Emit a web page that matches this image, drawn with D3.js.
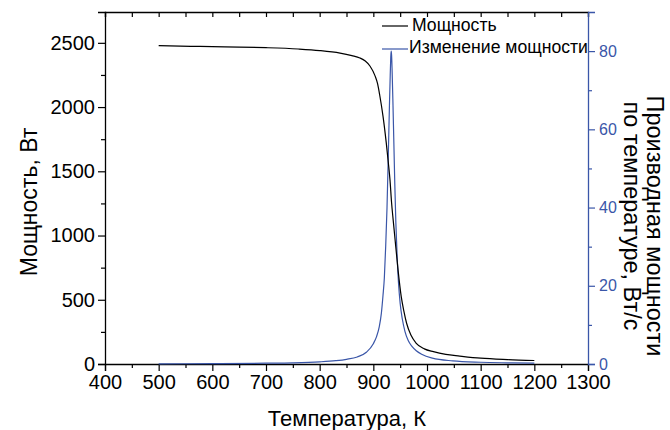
<!DOCTYPE html>
<html>
<head>
<meta charset="utf-8">
<script src="https://cdn.jsdelivr.net/npm/d3@7"></script>
<style>
  html, body { margin: 0; padding: 0; background: #fff; }
  svg { display: block; font-family: "Liberation Sans", Arial, sans-serif; }
</style>
</head>
<body>
<svg id="chart" width="670" height="430"></svg>
<script>
// ---- data ----
const tempTicks = [400, 500, 600, 700, 800, 900, 1000, 1100, 1200, 1300];
const powerTicks = [0, 500, 1000, 1500, 2000, 2500];
const derivTicks = [0, 20, 40, 60, 80];

const seriesNames = ["Мощность", "Изменение мощности"];

// Power, W vs temperature, K
const powerT = [500, 560, 600, 650, 700, 760, 800, 838, 860, 875, 885, 894, 903, 908, 912, 918, 924, 928, 931, 934, 937, 940, 946, 952, 957, 962, 970, 980, 995, 1012, 1035, 1061, 1100, 1150, 1200];
const powerW = [2478, 2473, 2470, 2467, 2462, 2452, 2440, 2420, 2400, 2382, 2358, 2318, 2245, 2180, 2090, 1930, 1725, 1565, 1435, 1255, 1120, 991, 735, 524, 410, 317, 225, 161, 118, 96, 75, 62, 45, 34, 27];

// Derivative of power by temperature, W/K
const derivT = [500, 600, 700, 750, 800, 830, 850, 870, 887, 900, 906, 911, 915, 918, 920.5, 923, 925.5, 928, 930, 931.5, 932.5, 933.2, 934, 935, 936.5, 938, 940, 942, 944.5, 947, 950, 954, 959, 965, 972, 980, 990, 1010, 1048, 1100, 1150, 1200];
const derivV = [0.05, 0.1, 0.2, 0.3, 0.55, 0.85, 1.2, 1.8, 3.0, 5.2, 7.0, 9.5, 13, 17.5, 22, 30, 40, 54, 66, 74, 78.5, 80, 79, 75, 67, 58, 46, 36, 27, 20.5, 15.5, 11.5, 8.3, 6, 4.5, 3.4, 2.5, 1.5, 0.8, 0.45, 0.3, 0.2];

// ---- layout ----
const svg = d3.select("#chart");
const mL = 105, mR = 588, mT = 12, mB = 364;
const blue = "#3a56a8";

const x = d3.scaleLinear().domain([400, 1300]).range([mL, mR]);
const yP = d3.scaleLinear().domain([0, 2740]).range([mB, mT]);
const yD = d3.scaleLinear().domain([0, 90]).range([mB, mT]);

const xMinor = d3.range(450, 1300, 100);
const pMinor = d3.range(250, 2740, 500);
const dMinor = d3.range(10, 90, 20);

function styleAxis(g, color) {
  g.select(".domain").attr("stroke", color).attr("stroke-width", 1.3);
  g.selectAll(".tick line").attr("stroke", color).attr("stroke-width", 1.2);
  g.selectAll(".tick text").attr("fill", color);
}

// bottom axis
const gB = svg.append("g").attr("transform", `translate(0,${mB})`)
  .call(d3.axisBottom(x).tickValues(tempTicks).tickSize(7).tickPadding(4).tickFormat(d3.format("d")));
gB.selectAll(".tick text").attr("font-size", 20);
svg.append("g").attr("transform", `translate(0,${mB})`)
  .call(d3.axisBottom(x).tickValues(xMinor).tickSize(4).tickFormat(""))
  .call(g => g.select(".domain").remove())
  .call(g => g.selectAll(".tick line").attr("stroke", "#000").attr("stroke-width", 1.2));
styleAxis(gB, "#000");

// top axis (inward ticks, every 50)
const gT = svg.append("g").attr("transform", `translate(0,${mT})`)
  .call(d3.axisTop(x).tickValues(tempTicks.concat(xMinor)).tickSize(-5).tickFormat(""));
styleAxis(gT, "#000");

// left axis
const gL = svg.append("g").attr("transform", `translate(${mL},0)`)
  .call(d3.axisLeft(yP).tickValues(powerTicks).tickSize(7).tickPadding(3).tickFormat(d3.format("d")));
gL.selectAll(".tick text").attr("font-size", 20);
styleAxis(gL, "#000");
svg.append("g").attr("transform", `translate(${mL},0)`)
  .call(d3.axisLeft(yP).tickValues(pMinor).tickSize(4).tickFormat(""))
  .call(g => g.select(".domain").remove())
  .call(g => g.selectAll(".tick line").attr("stroke", "#000").attr("stroke-width", 1.2));

// right axis (blue)
const gR = svg.append("g").attr("transform", `translate(${mR},0)`)
  .call(d3.axisRight(yD).tickValues(derivTicks).tickSize(7).tickPadding(4).tickFormat(d3.format("d")));
gR.selectAll(".tick text").attr("font-size", 16);
styleAxis(gR, blue);
svg.append("g").attr("transform", `translate(${mR},0)`)
  .call(d3.axisRight(yD).tickValues(dMinor).tickSize(4).tickFormat(""))
  .call(g => g.select(".domain").remove())
  .call(g => g.selectAll(".tick line").attr("stroke", blue).attr("stroke-width", 1.2));

// curves
const powerData = powerT.map((t, i) => [t, powerW[i]]);
const derivData = derivT.map((t, i) => [t, derivV[i]]);

svg.append("path").datum(derivData)
  .attr("fill", "none").attr("stroke", blue).attr("stroke-width", 1.2)
  .attr("d", d3.line().x(d => x(d[0])).y(d => yD(d[1])).curve(d3.curveMonotoneX));

svg.append("path").datum(powerData)
  .attr("fill", "none").attr("stroke", "#000").attr("stroke-width", 1.2)
  .attr("d", d3.line().x(d => x(d[0])).y(d => yP(d[1])).curve(d3.curveMonotoneX));

// legend
const legend = svg.append("g");
[["#000", 26, 31], [blue, 49, 53]].forEach((s, i) => {
  legend.append("line").attr("x1", 382).attr("x2", 408).attr("y1", s[1]).attr("y2", s[1])
    .attr("stroke", s[0]).attr("stroke-width", 1.2);
  legend.append("text").attr("x", i === 0 ? 412 : 409).attr("y", s[2])
    .attr("font-size", 17.6).attr("fill", "#000").text(seriesNames[i]);
});

// axis titles
svg.append("text").attr("x", 347).attr("y", 426).attr("text-anchor", "middle")
  .attr("font-size", 22).text("Температура, К");

svg.append("text").attr("transform", "translate(37,202) rotate(-90)")
  .attr("text-anchor", "middle").attr("font-size", 23).text("Мощность, Вт");

svg.append("text").attr("transform", "translate(647,226) rotate(90)")
  .attr("text-anchor", "middle").attr("font-size", 23.5).text("Производная мощности");
svg.append("text").attr("transform", "translate(624,216) rotate(90)")
  .attr("text-anchor", "middle").attr("font-size", 23.5).text("по температуре, Вт/с");
</script>
</body>
</html>
